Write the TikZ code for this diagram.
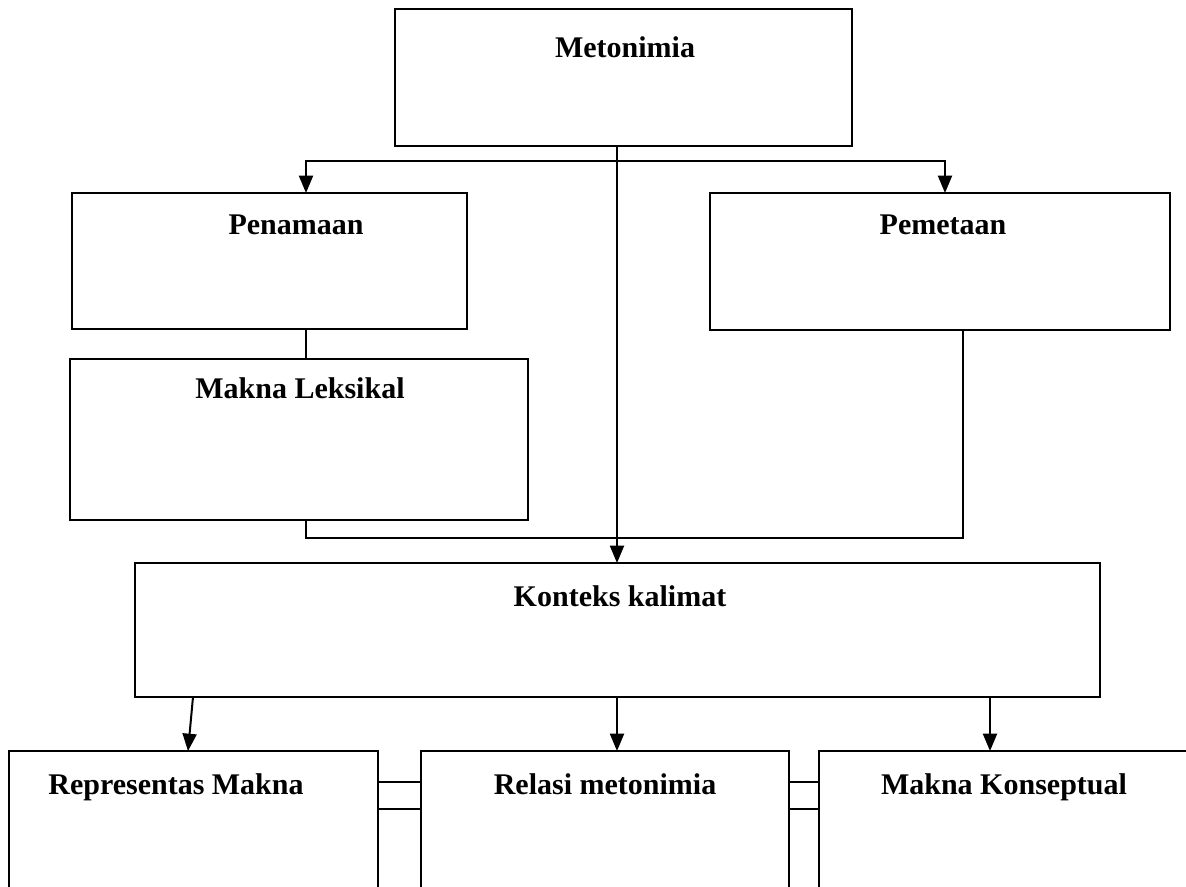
\documentclass[tikz,border=0pt]{standalone}
\usepackage{fontspec}
\setmainfont{Liberation Serif}
\usetikzlibrary{arrows.meta}
\begin{document}
\begin{tikzpicture}[x=0.75pt,y=-0.75pt, line width=1.5pt,
  box/.style={draw, rectangle, inner sep=0pt, outer sep=0pt},
  lbl/.style={font=\bfseries\fontsize{22.5}{26}\selectfont, inner sep=0pt, text height=15pt, text depth=4pt},
  arr/.style={-{Triangle[width=10.5pt,length=13pt]}}]
\clip (0,0) rectangle (1186,886);
\useasboundingbox (0,0) rectangle (1186,886);
\fill[white] (0,0) rectangle (1186,886);
% boxes
\node[box, minimum width=457*0.75pt, minimum height=137*0.75pt] (met) at (623.5,77.5) {};
\node[box, minimum width=395*0.75pt, minimum height=136*0.75pt] (pen) at (269.5,261) {};
\node[box, minimum width=460*0.75pt, minimum height=137*0.75pt] (pem) at (940,261.5) {};
\node[box, minimum width=458*0.75pt, minimum height=161*0.75pt] (ml) at (299,439.5) {};
\node[box, minimum width=965*0.75pt, minimum height=134*0.75pt] (kon) at (617.5,630) {};
\node[box, minimum width=369*0.75pt, minimum height=159*0.75pt] (rep) at (193.5,830.5) {};
\node[box, minimum width=368*0.75pt, minimum height=159*0.75pt] (rel) at (605,830.5) {};
\node[box, minimum width=391*0.75pt, minimum height=159*0.75pt] (mk) at (1014.5,830.5) {};
% labels
\node[lbl] (metT) at (625,50) {Metonimia};
\node[lbl] (penT) at (296,227) {Penamaan};
\node[lbl] (pemT) at (943,227) {Pemetaan};
\node[lbl] (mlT) at (300,391) {Makna Leksikal};
\node[lbl] (konT) at (620,599) {Konteks kalimat};
\node[lbl] (repT) at (176,787) {Representas Makna};
\node[lbl] (relT) at (605,787) {Relasi metonimia};
\node[lbl] (mkT) at (1004,787) {Makna Konseptual};
% coordinates
\coordinate (split) at (617,161);
\coordinate (penIn) at (306,193);
\coordinate (pemIn) at (945,193);
\coordinate (join) at (306,538);
\coordinate (pemOut) at (963,330);
\coordinate (k1) at (193,697);
\coordinate (r1) at (188,751);
\coordinate (k3) at (990,697);
% connectors
\draw[arr] (met.south -| split) -- (kon.north -| split);
\draw[arr] (split) -| (penIn);
\draw[arr] (split) -| (pemIn);
\draw (pen.south -| penIn) -- (ml.north -| penIn);
\draw (ml.south -| join) -- (join) -| (pemOut);
\draw[arr] (k1) -- (r1);
\draw[arr] (kon.south -| split) -- (rel.north -| split);
\draw[arr] (k3) -- (mk.north -| k3);
\draw ([yshift=-23.25pt]rep.north east) -- ([yshift=-23.25pt]rel.north west);
\draw ([yshift=-43.5pt]rep.north east) -- ([yshift=-43.5pt]rel.north west);
\draw ([yshift=-23.25pt]rel.north east) -- ([yshift=-23.25pt]mk.north west);
\draw ([yshift=-43.5pt]rel.north east) -- ([yshift=-43.5pt]mk.north west);
\end{tikzpicture}
\end{document}
